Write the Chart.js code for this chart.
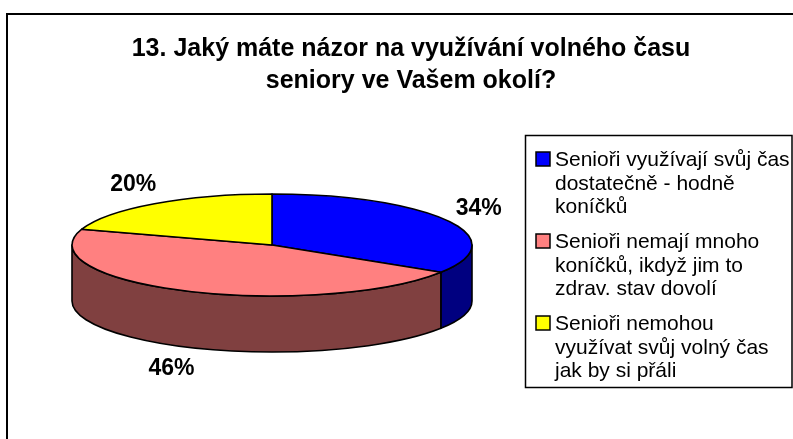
<!DOCTYPE html>
<html>
<head>
<meta charset="utf-8">
<script src="https://cdn.jsdelivr.net/npm/chart.js@4.4.0/dist/chart.umd.min.js"></script>
<style>
  html, body { margin: 0; padding: 0; background: #fff; }
  #wrap { position: relative; width: 793px; height: 439px; }
</style>
</head>
<body>
<div id="wrap"><canvas id="myChart" width="793" height="439"></canvas></div>
<script>
// chart text + values
var titleLines = ["13. Jaký máte názor na využívání volného času", "seniory ve Vašem okolí?"];
var labels = [
    ["Senioři využívají svůj čas", "dostatečně - hodně", "koníčků"],
    ["Senioři nemají mnoho", "koníčků, ikdyž jim to", "zdrav. stav dovolí"],
    ["Senioři nemohou", "využívat svůj volný čas", "jak by si přáli"]
];
var data = [34, 46, 20];
var topColors = ["#0000ff", "#ff8080", "#ffff00"];
var sideColors = ["#000080", "#804040", "#808000"];

var FONT = "'Liberation Sans', Arial, sans-serif";

// draws the tilted pie from the arcs chart.js laid out
var pie3d = {
    id: 'pie3d',
    beforeDatasetsDraw: function(chart){
        var ctx = chart.ctx;
        var o = chart.options.plugins.pie3d;
        var arcs = chart.getDatasetMeta(0).data;
        var vals = chart.data.datasets[0].data;
        var total = vals.reduce(function(a, b){ return a + b; }, 0);
        ctx.save();
        ctx.lineWidth = 1.6;
        ctx.strokeStyle = '#000';
        ctx.lineJoin = 'round';

        // side walls (front half only)
        arcs.forEach(function(arc, i){
            var rx = arc.outerRadius, ry = rx * o.tilt;
            var a0 = Math.max(arc.startAngle, 0);
            var a1 = Math.min(arc.endAngle, Math.PI);
            if (a1 <= a0) return;
            ctx.beginPath();
            ctx.ellipse(arc.x, arc.y, rx, ry, 0, a0, a1);
            ctx.lineTo(arc.x + rx * Math.cos(a1), arc.y + ry * Math.sin(a1) + o.depth);
            ctx.ellipse(arc.x, arc.y + o.depth, rx, ry, 0, a1, a0, true);
            ctx.closePath();
            ctx.fillStyle = sideColors[i];
            ctx.fill();
            ctx.stroke();
        });

        // top faces
        arcs.forEach(function(arc, i){
            var rx = arc.outerRadius, ry = rx * o.tilt;
            ctx.beginPath();
            ctx.moveTo(arc.x, arc.y);
            ctx.ellipse(arc.x, arc.y, rx, ry, 0, arc.startAngle, arc.endAngle);
            ctx.closePath();
            ctx.fillStyle = topColors[i];
            ctx.fill();
            ctx.stroke();
        });

        // percent labels
        ctx.fillStyle = '#000';
        ctx.font = 'bold 23px ' + FONT;
        ctx.textAlign = 'center';
        ctx.textBaseline = 'middle';
        arcs.forEach(function(arc, i){
            var rx = arc.outerRadius, ry = rx * o.tilt;
            var mid = (arc.startAngle + arc.endAngle) / 2;
            var s = Math.sin(mid);
            var lx = arc.x + (rx + o.labelOffX) * Math.cos(mid);
            var ly = arc.y + (ry + o.labelOffY) * s + (s > 0 ? o.depth : 0);
            ctx.fillText(Math.round(vals[i] / total * 100) + '%', lx, ly);
        });
        ctx.restore();
        return false;
    },
    afterDraw: function(chart){
        var ctx = chart.ctx;
        ctx.save();
        // outer frame (cut off at right/bottom)
        ctx.strokeStyle = '#000';
        ctx.lineWidth = 2;
        ctx.strokeRect(7, 14, 900, 900);

        // title
        ctx.fillStyle = '#000';
        ctx.font = 'bold 25px ' + FONT;
        ctx.textAlign = 'center';
        ctx.textBaseline = 'alphabetic';
        titleLines.forEach(function(t, i){
            ctx.fillText(t, 411, 56 + i * 32);
        });

        // legend box
        ctx.lineWidth = 1.5;
        ctx.strokeRect(525.5, 135.5, 266.5, 252);
        ctx.font = '21px ' + FONT;
        ctx.textAlign = 'left';
        chart.data.labels.forEach(function(lines, i){
            var base = 166 + i * 82;
            ctx.fillStyle = topColors[i];
            ctx.fillRect(536, base - 14, 14, 14);
            ctx.lineWidth = 1.5;
            ctx.strokeRect(536, base - 14, 14, 14);
            ctx.fillStyle = '#000';
            lines.forEach(function(l, j){
                ctx.fillText(l, 555, base + j * 23.5);
            });
        });
        ctx.restore();
    }
};

var ctx = document.getElementById("myChart").getContext('2d');
var myChart = new Chart(ctx, {
    type: 'pie',
    data: {
        labels: labels,
        datasets: [{
            data: data,
            backgroundColor: topColors,
            borderWidth: 0
        }]
    },
    options: {
        responsive: false,
        animation: false,
        devicePixelRatio: 1,
        radius: 200,
        layout: { padding: { left: 72, right: 321, top: 195, bottom: 144 } },
        plugins: {
            legend: { display: false },
            title: { display: false },
            tooltip: { enabled: false },
            pie3d: { tilt: 0.255, depth: 56, labelOffX: 36, labelOffY: 24 }
        }
    },
    plugins: [pie3d]
});
</script>
</body>
</html>
